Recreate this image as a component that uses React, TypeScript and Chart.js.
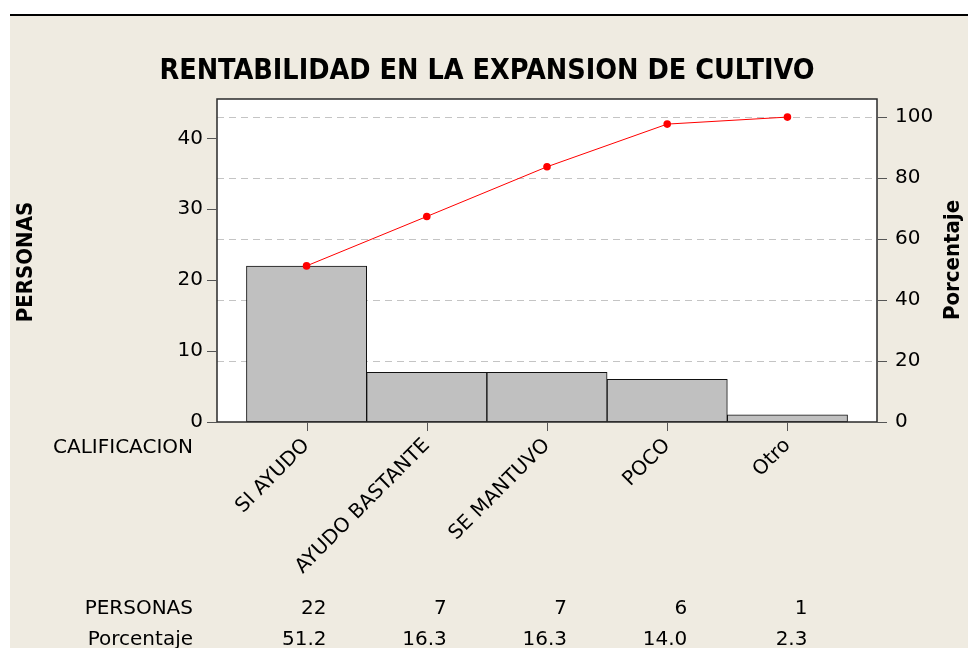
import React, { useEffect, useRef } from "react";
import { Chart, registerables } from "chart.js";

Chart.register(...registerables);

const chartTitle = "RENTABILIDAD EN LA EXPANSION DE CULTIVO";
const categoryAxisName = "CALIFICACION";
const countAxisName = "PERSONAS";
const percentAxisName = "Porcentaje";
const categories = ["SI AYUDO", "AYUDO BASTANTE", "SE MANTUVO", "POCO", "Otro"];
const personas = [22, 7, 7, 6, 1];
const porcentaje = [51.2, 16.3, 16.3, 14.0, 2.3];
const porcentajeAcumulado = [51.2, 67.4, 83.7, 97.7, 100];
const countTicks = [0, 10, 20, 30, 40];
const percentTicks = [0, 20, 40, 60, 80, 100];
const totalPersonas = 43;
const countAxisMax = 45.55;
const xMin = -0.745;
const xMax = 4.745;

const FONT = "'DejaVu Sans', sans-serif";
const BOLD_FONT = "'DejaVu Sans Condensed', 'DejaVu Sans', sans-serif";
const BEIGE = "#efebe1";
const INK = "#000000";

const decor = {
  id: "decor",
  beforeDraw(chart: any) {
    const { ctx, width, height, chartArea: a } = chart;
    ctx.save();
    ctx.fillStyle = "#ffffff";
    ctx.fillRect(0, 0, width, height);
    ctx.fillStyle = BEIGE;
    ctx.fillRect(10, 16, width - 10, height - 16);
    ctx.fillStyle = "#000000";
    ctx.fillRect(10, 14, width - 10, 2);
    ctx.fillStyle = "#ffffff";
    ctx.fillRect(a.left, a.top, a.right - a.left, a.bottom - a.top);
    ctx.restore();
  },
  beforeDatasetsDraw(chart: any) {
    const { ctx, chartArea: a } = chart;
    const y1 = chart.scales.y1;
    ctx.save();
    ctx.strokeStyle = "#c4c4c4";
    ctx.lineWidth = 1;
    ctx.setLineDash([7, 5]);
    percentTicks.forEach((v) => {
      if (v === 0) return;
      const y = Math.round(y1.getPixelForValue(v)) + 0.5;
      ctx.beginPath();
      ctx.moveTo(a.left, y);
      ctx.lineTo(a.right, y);
      ctx.stroke();
    });
    ctx.restore();
  },
  afterDatasetsDraw(chart: any) {
    const { ctx, chartArea: a } = chart;
    const ys = chart.scales.y;
    const y1 = chart.scales.y1;
    const xs = chart.scales.x;
    ctx.save();
    ctx.strokeStyle = "#2a2a2a";
    ctx.lineWidth = 1.5;
    ctx.strokeRect(a.left, a.top, a.right - a.left, a.bottom - a.top);
    ctx.strokeStyle = "#555555";
    ctx.lineWidth = 1;
    countTicks.forEach((v) => {
      const y = Math.round(ys.getPixelForValue(v)) + 0.5;
      ctx.beginPath();
      ctx.moveTo(a.left - 10, y);
      ctx.lineTo(a.left, y);
      ctx.stroke();
    });
    percentTicks.forEach((v) => {
      const y = Math.round(y1.getPixelForValue(v)) + 0.5;
      ctx.beginPath();
      ctx.moveTo(a.right, y);
      ctx.lineTo(a.right + 10, y);
      ctx.stroke();
    });
    categories.forEach((_, i) => {
      const x = Math.round(xs.getPixelForValue(i)) + 0.5;
      ctx.beginPath();
      ctx.moveTo(x, a.bottom);
      ctx.lineTo(x, a.bottom + 9);
      ctx.stroke();
    });
    ctx.restore();
  },
  afterDraw(chart: any) {
    const { ctx } = chart;
    const xs = chart.scales.x;
    ctx.save();
    ctx.fillStyle = INK;
    // title
    ctx.font = `bold 28.5px ${BOLD_FONT}`;
    ctx.textAlign = "center";
    ctx.textBaseline = "alphabetic";
    ctx.fillText(chartTitle, 487, 79);
    // left axis name
    ctx.font = `bold 22px ${BOLD_FONT}`;
    ctx.save();
    ctx.translate(32, 262);
    ctx.rotate(-Math.PI / 2);
    ctx.textAlign = "center";
    ctx.fillText(countAxisName, 0, 0);
    ctx.restore();
    // right axis name
    ctx.save();
    ctx.translate(959, 260);
    ctx.rotate(-Math.PI / 2);
    ctx.textAlign = "center";
    ctx.fillText(percentAxisName, 0, 0);
    ctx.restore();
    // category axis name + table
    ctx.font = `20px ${FONT}`;
    ctx.textAlign = "right";
    ctx.fillText(categoryAxisName, 193, 453);
    ctx.fillText(countAxisName, 193, 614);
    ctx.fillText(percentAxisName, 193, 645);
    categories.forEach((_, i) => {
      const x = xs.getPixelForValue(i) + 20;
      ctx.fillText(String(personas[i]), x, 614);
      ctx.fillText(porcentaje[i].toFixed(1), x, 645);
    });
    ctx.restore();
  },
};

export default function App() {
  const ref = useRef<HTMLCanvasElement | null>(null);
  useEffect(() => {
    document.body.style.margin = "0";
    const canvas = ref.current;
    if (!canvas) return;
    const chart = new Chart(canvas, {
      type: "bar",
      data: {
        datasets: [
          {
            type: "line",
            label: "Acumulado",
            data: porcentajeAcumulado.map((v, i) => ({ x: i, y: v })),
            yAxisID: "y1",
            xAxisID: "x",
            borderColor: "#ff0000",
            borderWidth: 1,
            pointRadius: 3.8,
            pointBackgroundColor: "#ff0000",
            pointBorderWidth: 0,
            tension: 0,
            order: 0,
          } as any,
          {
            type: "bar",
            label: countAxisName,
            data: personas.map((v, i) => ({ x: i, y: v })),
            yAxisID: "y",
            xAxisID: "x",
            backgroundColor: "#c0c0c0",
            borderColor: "#111111",
            borderWidth: 1,
            borderSkipped: false,
            barPercentage: 1,
            categoryPercentage: 1,
            order: 1,
          } as any,
        ],
      },
      options: {
        animation: false,
        responsive: false,
        maintainAspectRatio: false,
        layout: { padding: { top: 99, left: 0, right: 0, bottom: 0 } },
        plugins: { legend: { display: false }, tooltip: { enabled: false }, title: { display: false } },
        scales: {
          x: {
            type: "linear",
            position: "bottom",
            min: xMin,
            max: xMax,
            offset: false,
            grid: { display: false, drawTicks: false, offset: false },
            border: { display: false },
            afterBuildTicks: (s: any) => {
              s.ticks = categories.map((_, i) => ({ value: i }));
            },
            afterFit: (s: any) => {
              s.height = 226;
            },
            ticks: {
              autoSkip: false,
              minRotation: 45,
              maxRotation: 45,
              padding: 12,
              color: INK,
              font: { family: FONT, size: 20 },
              callback: (v: any) => categories[Math.round(Number(v))] ?? "",
            },
          },
          y: {
            type: "linear",
            position: "left",
            min: 0,
            max: countAxisMax,
            grid: { display: false, drawTicks: false },
            border: { display: false },
            afterBuildTicks: (s: any) => {
              s.ticks = countTicks.map((v) => ({ value: v }));
            },
            afterFit: (s: any) => {
              s.width = 217;
            },
            ticks: {
              padding: 14,
              color: INK,
              font: { family: FONT, size: 20 },
              callback: (v: any) => String(v),
            },
          },
          y1: {
            type: "linear",
            position: "right",
            min: 0,
            max: (countAxisMax / totalPersonas) * 100,
            grid: { display: false, drawTicks: false },
            border: { display: false },
            afterBuildTicks: (s: any) => {
              s.ticks = percentTicks.map((v) => ({ value: v }));
            },
            afterFit: (s: any) => {
              s.width = 91;
            },
            ticks: {
              padding: 18,
              color: INK,
              font: { family: FONT, size: 20 },
              callback: (v: any) => String(v),
            },
          },
        },
      },
      plugins: [decor],
    });
    return () => chart.destroy();
  }, []);
  return <canvas ref={ref} width={968} height={648} style={{ display: "block", width: 968, height: 648 }} />;
}
